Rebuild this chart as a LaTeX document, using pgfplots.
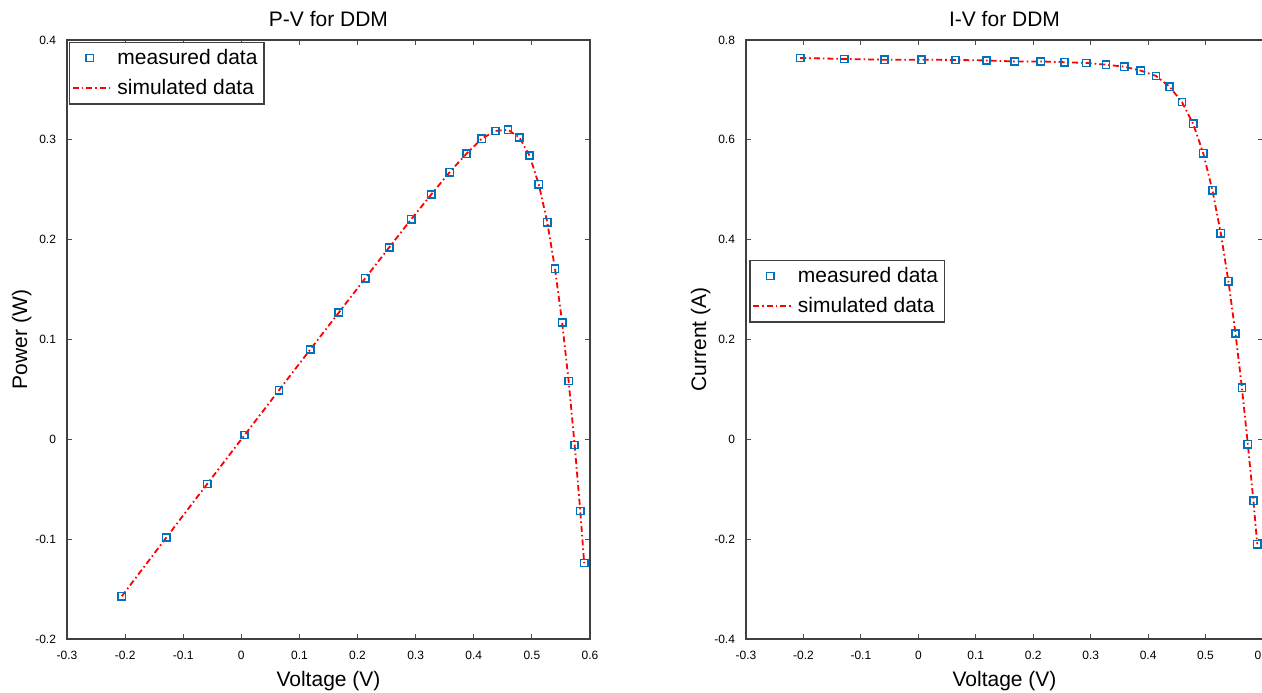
\documentclass[border=0pt]{standalone}
\usepackage{fontspec}
\setmainfont{Liberation Sans}
\usepackage{pgfplots}
\pgfplotsset{compat=1.18}
\usepackage{pgfplotstable}

\definecolor{mblue}{RGB}{0,114,189}

\pgfplotstableread{
V I P
-0.2057 0.7640 -0.15715
-0.1291 0.7620 -0.09837
-0.0588 0.7605 -0.04472
0.0057 0.7605 0.004335
0.0646 0.7600 0.049096
0.1185 0.7590 0.089942
0.1678 0.7570 0.127025
0.2132 0.7570 0.161392
0.2545 0.7555 0.192275
0.2924 0.7540 0.220470
0.3269 0.7505 0.245338
0.3585 0.7465 0.267620
0.3873 0.7385 0.286021
0.4137 0.7280 0.301174
0.4373 0.7065 0.308952
0.4590 0.6755 0.310055
0.4784 0.6320 0.302349
0.4960 0.5730 0.284208
0.5119 0.4990 0.255438
0.5265 0.4130 0.217445
0.5398 0.3165 0.170847
0.5521 0.2120 0.117045
0.5633 0.1035 0.058302
0.5736 -0.0100 -0.005736
0.5833 -0.1230 -0.071746
0.5900 -0.2100 -0.1239
}\datatable

\begin{document}
\begin{tikzpicture}
\useasboundingbox (0,0) rectangle (631pt,346pt);
\pgfplotsset{
  myax/.style={
    scale only axis, anchor=south west,
    height=299.5pt,
    xmin=-0.3, xmax=0.6,
    xtick={-0.3,-0.2,-0.1,0,0.1,0.2,0.3,0.4,0.5,0.6},
    scaled ticks=false,
    tick align=inside, major tick length=2.5pt,
    tick style={black!70, line width=0.5pt},
    axis line style={black!75, line width=0.9pt},
    ticklabel style={font=\fontsize{6}{7}\selectfont},
    /pgf/number format/.cd, fixed, precision=1, assume math mode=true, /pgfplots/.cd,
    xticklabel style={yshift=-2.5pt},
    yticklabel style={xshift=-2pt},
    label style={font=\fontsize{10.5}{12}\selectfont},
    xlabel style={yshift=1pt},
    ylabel style={yshift=-5pt},
    title style={font=\fontsize{10.5}{12}\selectfont, yshift=-3pt},
    xlabel={Voltage (V)},
    legend cell align=left,
    legend style={font=\fontsize{10.5}{12}\selectfont, draw=black!75, line width=0.8pt,
      inner sep=1.2pt, row sep=2pt},
  },
  meas/.style={only marks, mark=square, mark size=1.8pt, mark options={mblue, line width=0.75pt}},
  sim/.style={red, line width=0.9pt, dash pattern=on 3pt off 1.5pt on 0.8pt off 1.5pt,
    legend image code/.code={\draw[##1] (0cm,0cm) -- (0.7cm,0cm);}},
}
\begin{axis}[myax, at={(33.5pt,26.5pt)}, width=261.5pt,
  ymin=-0.2, ymax=0.4, ytick={-0.2,-0.1,0,0.1,0.2,0.3,0.4},
  title={P-V for DDM}, ylabel={Power (W)},
  legend style={at={(0.003,0.997)}, anchor=north west}]
\addplot[meas] table[x=V, y=P] {\datatable};
\addlegendentry{measured data}
\addplot[sim] table[x=V, y=P] {\datatable};
\addlegendentry{simulated data}
\end{axis}
\begin{axis}[myax, at={(373pt,26.5pt)}, width=258.5pt,
  ymin=-0.4, ymax=0.8, ytick={-0.4,-0.2,0,0.2,0.4,0.6,0.8},
  title={I-V for DDM}, ylabel={Current (A)},
  legend style={at={(0.006,0.633)}, anchor=north west}]
\addplot[meas] table[x=V, y=I] {\datatable};
\addlegendentry{measured data}
\addplot[sim] table[x=V, y=I] {\datatable};
\addlegendentry{simulated data}
\end{axis}
\end{tikzpicture}
\end{document}
